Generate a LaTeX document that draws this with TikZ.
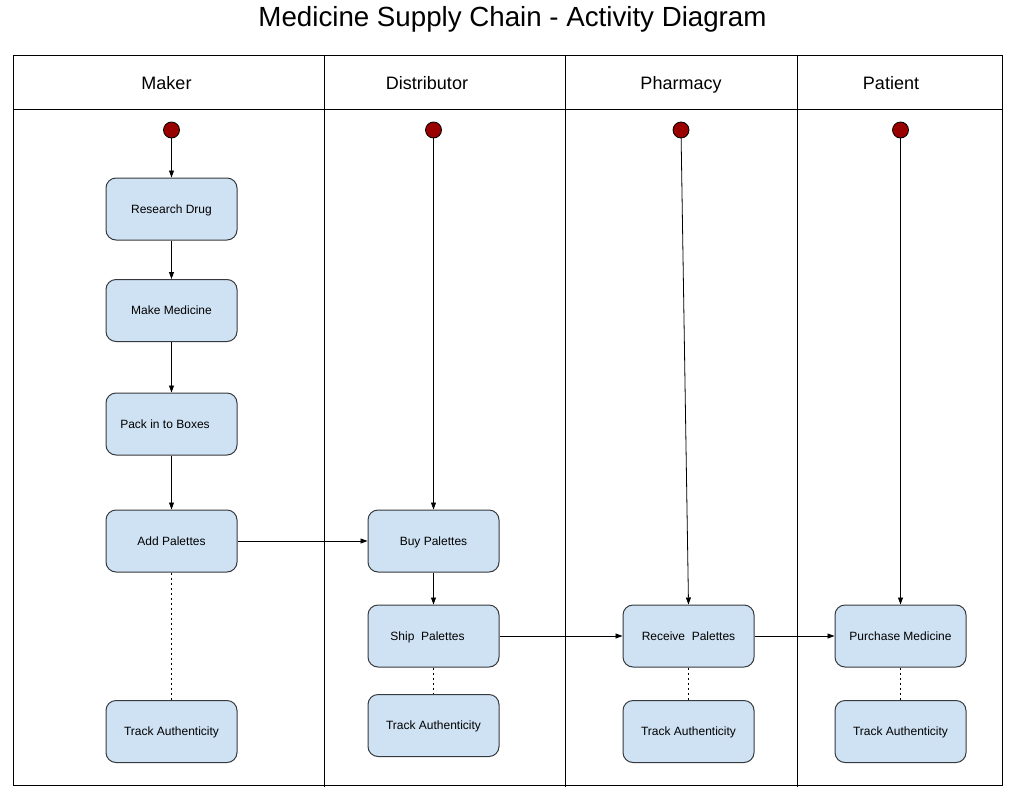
\documentclass[tikz,border=0pt]{standalone}
\usepackage{fontspec}
\setmainfont{Liberation Sans}
\usetikzlibrary{arrows.meta}
\definecolor{boxfill}{HTML}{CFE2F3}
\definecolor{boxdraw}{HTML}{36393D}
\definecolor{startred}{HTML}{990000}
\tikzset{
  act/.style={draw=boxdraw, fill=boxfill, line width=1pt, rounded corners=10pt,
    minimum width=131pt, minimum height=62pt, inner sep=0pt, text height=8.6pt, text depth=0pt,
    font=\fontsize{12}{14}\selectfont},
  startnode/.style={circle, draw=black, fill=startred, line width=0.8pt, minimum size=16pt, inner sep=0pt},
  flow/.style={-{Triangle[length=7pt,width=5pt]}, line width=0.8pt},
  tie/.style={line width=0.9pt, dash pattern=on 2.5pt off 2.5pt},
  lane/.style={line width=1pt},
  lanelabel/.style={font=\fontsize{18}{20}\selectfont, inner sep=0pt, anchor=base},
}
\begin{document}
\begin{tikzpicture}[x=1pt,y=-1pt]
\useasboundingbox (0,0) rectangle (1022,798);
\node[font=\fontsize{27.7}{32}\selectfont, inner sep=0pt, anchor=base] (title) at (512.5,26) {Medicine Supply Chain - Activity Diagram};
% swimlanes
\draw[lane] (13,55) rectangle (1002,785);
\draw[lane] (13,109) -- (1002,109);
\draw[lane] (324,55) -- (324,787);
\draw[lane] (565,55) -- (565,787);
\draw[lane] (797,55) -- (797,787);
\node[lanelabel] (hmaker) at (166.5,89) {Maker};
\node[lanelabel] (hdist) at (427,89) {Distributor};
\node[lanelabel] (hpharm) at (681,89) {Pharmacy};
\node[lanelabel] (hpat) at (891,89) {Patient};
% start nodes
\node[startnode] (s1) at (171.5,130) {};
\node[startnode] (s2) at (433.5,130) {};
\node[startnode] (s3) at (681,130) {};
\node[startnode] (s4) at (900.5,130) {};
% Maker
\node[act] (research) at (171.5,209) {Research Drug};
\node[act] (make) at (171.5,310.5) {Make Medicine};
\node[act] (pack) at (171.5,424) {Pack in to Boxes\kern13pt};
\node[act] (add) at (171.5,541) {Add Palettes};
\node[act] (track1) at (171.5,731.5) {Track Authenticity};
% Distributor
\node[act] (buy) at (433.5,541) {Buy Palettes};
\node[act] (ship) at (433.5,636) {Ship\ \ Palettes\kern12pt};
\node[act] (track2) at (433.5,725.5) {Track Authenticity};
% Pharmacy
\node[act] (receive) at (688.5,636) {Receive\ \ Palettes};
\node[act] (track3) at (688.5,731.5) {Track Authenticity};
% Patient
\node[act] (purchase) at (900.5,636) {Purchase Medicine};
\node[act] (track4) at (900.5,731.5) {Track Authenticity};
% flows
\draw[flow] (s1) -- (research);
\draw[flow] (research) -- (make);
\draw[flow] (make) -- (pack);
\draw[flow] (pack) -- (add);
\draw[flow] (add) -- (buy);
\draw[flow] (s2) -- (buy);
\draw[flow] (buy) -- (ship);
\draw[flow] (ship) -- (receive);
\draw[flow] (s3) -- (receive.north);
\draw[flow] (receive) -- (purchase);
\draw[flow] (s4) -- (purchase);
% dotted ties
\draw[tie] (add) -- (track1);
\draw[tie] (ship) -- (track2);
\draw[tie] (receive) -- (track3);
\draw[tie] (purchase) -- (track4);
\end{tikzpicture}
\end{document}
